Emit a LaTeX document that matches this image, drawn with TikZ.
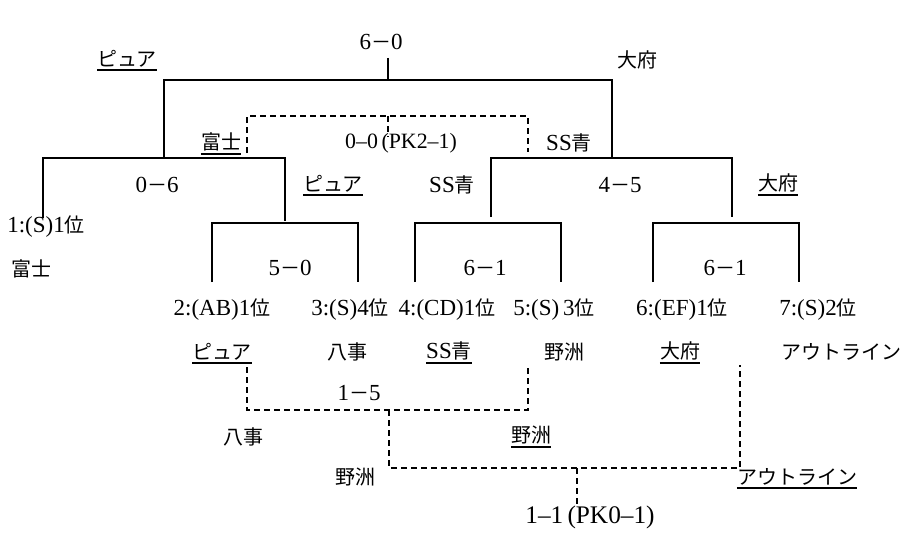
\documentclass[tikz,border=0pt]{standalone}
\usepackage{fontspec}
\setmainfont[Scale=1.15]{Liberation Serif}
\newfontfamily\jp{Noto Sans CJK JP}
\newcommand\fwd{{\jp －}}
\begin{document}
\begin{tikzpicture}[x=1pt,y=-1pt,
  lbl/.style={inner sep=0pt, font=\fontsize{20}{24}\selectfont},
  small/.style={font=\fontsize{19}{22}\selectfont},
  big/.style={font=\fontsize{22}{26}\selectfont},
  ulline/.style={line width=1.5pt},
  ul/.style={anchor=south, inner ysep=2.5pt,
    append after command={(\tikzlastnode.south west) edge[ulline] (\tikzlastnode.south east)}},
  br/.style={line width=1.4pt},
  dsh/.style={line width=1.4pt, dash pattern=on 6pt off 4pt}]
\useasboundingbox (0,0) rectangle (907,535);

% ---------- texts ----------
\node[lbl] (s60) at (381,42) {6\fwd 0};
\node[lbl,ul] (pure1) at (127,70) {\jp ピュア};
\node[lbl] (ofu1) at (637,60) {\jp 大府};

\node[lbl,ul] (fuji1) at (221,154) {\jp 富士};
\node[lbl,small] (pk21) at (401,143) {0–0\,(PK2–1)};
\node[lbl] (ssa1) at (569,143) {SS{\jp 青}};

\node[lbl] (s06) at (157,185) {0\fwd 6};
\node[lbl,ul] (pure2) at (333,195) {\jp ピュア};
\node[lbl] (ssa2) at (452,185) {SS{\jp 青}};
\node[lbl] (s45) at (620,185) {4\fwd 5};
\node[lbl,ul] (ofu2) at (778,195) {\jp 大府};

\node[lbl] (t1l) at (46,227) {1:(S)1{\jp 位}};
\node[lbl] (fuji2) at (31,269) {\jp 富士};

\node[lbl] (s50) at (290,268) {5\fwd 0};
\node[lbl] (s61a) at (485,268) {6\fwd 1};
\node[lbl] (s61b) at (725,268) {6\fwd 1};

\node[lbl] (t2l) at (222,310) {2:(AB)1{\jp 位}};
\node[lbl] (t3l) at (350,310) {3:(S)4{\jp 位}};
\node[lbl] (t4l) at (447,310) {4:(CD)1{\jp 位}};
\node[lbl] (t5l) at (554,310) {5:(S)\,3{\jp 位}};
\node[lbl] (t6l) at (682,310) {6:(EF)1{\jp 位}};
\node[lbl] (t7l) at (818,310) {7:(S)2{\jp 位}};

\node[lbl,ul] (pure3) at (222,363) {\jp ピュア};
\node[lbl] (yag1) at (347,352) {\jp 八事};
\node[lbl,ul] (ssa3) at (449,363) {SS{\jp 青}};
\node[lbl] (yas1) at (564,352) {\jp 野洲};
\node[lbl,ul] (ofu3) at (680,363) {\jp 大府};
\node[lbl] (out1) at (841,352) {\jp アウトライン};

\node[lbl] (s15) at (359,393) {1\fwd 5};
\node[lbl] (yag2) at (243,437) {\jp 八事};
\node[lbl,ul] (yas2) at (531,447) {\jp 野洲};
\node[lbl] (yas3) at (355,477) {\jp 野洲};
\node[lbl,ul] (out2) at (797,488) {\jp アウトライン};
\node[lbl,big] (pk01) at (590,517) {1–1\,(PK0–1)};

% ---------- coordinates ----------
\coordinate (f0) at (388,58);  \coordinate (f1) at (388,80);
\coordinate (fl) at (164,80);  \coordinate (flb) at (164,157);
\coordinate (fr) at (612,80);  \coordinate (frb) at (612,157);

\coordinate (dlb) at (247,153); \coordinate (dl) at (247,116);
\coordinate (dr) at (528,116);  \coordinate (drb) at (528,152);
\coordinate (dm0) at (388,116); \coordinate (dm1) at (388,137);

\coordinate (a1) at (43,218);  \coordinate (a2) at (43,158);
\coordinate (a3) at (285,158); \coordinate (a4) at (285,221);

\coordinate (b1) at (212,282); \coordinate (b2) at (212,223);
\coordinate (b3) at (358,223); \coordinate (b4) at (358,282);

\coordinate (c1) at (491,217); \coordinate (c2) at (491,158);
\coordinate (c3) at (732,158); \coordinate (c4) at (732,217);

\coordinate (d1) at (415,282); \coordinate (d2) at (415,223);
\coordinate (d3) at (561,223); \coordinate (d4) at (561,282);

\coordinate (e1) at (653,282); \coordinate (e2) at (653,223);
\coordinate (e3) at (799,223); \coordinate (e4) at (799,282);

\coordinate (g1) at (247,367); \coordinate (g2) at (247,410);
\coordinate (g3) at (528,410); \coordinate (g4) at (528,367);
\coordinate (h0) at (389,410); \coordinate (h1) at (389,468);
\coordinate (h2) at (740,468); \coordinate (h3) at (740,365);
\coordinate (k0) at (577,468); \coordinate (k1) at (577,504);

% ---------- brackets ----------
\draw[br] (f0) -- (f1);
\draw[br] (flb) -- (fl) -- (fr) -- (frb);
\draw[br] (a1) -- (a2) -- (a3) -- (a4);
\draw[br] (b1) -- (b2) -- (b3) -- (b4);
\draw[br] (c1) -- (c2) -- (c3) -- (c4);
\draw[br] (d1) -- (d2) -- (d3) -- (d4);
\draw[br] (e1) -- (e2) -- (e3) -- (e4);

\draw[dsh] (dlb) -- (dl) -- (dr) -- (drb);
\draw[dsh] (dm0) -- (dm1);
\draw[dsh] (g1) -- (g2) -- (g3) -- (g4);
\draw[dsh] (h0) -- (h1) -- (h2) -- (h3);
\draw[dsh] (k0) -- (k1);
\end{tikzpicture}
\end{document}
